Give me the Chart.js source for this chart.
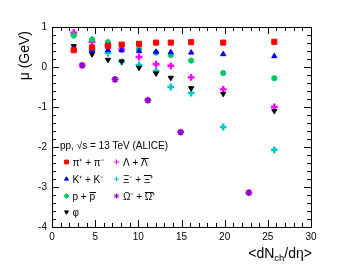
<!DOCTYPE html>
<html><head><meta charset="utf-8">
<script src="https://cdn.jsdelivr.net/npm/chart.js@4.4.0/dist/chart.umd.min.js"></script>
<style>html,body{margin:0;padding:0;background:#fff}canvas{display:block}</style>
</head><body>
<canvas id="c" width="347" height="267"></canvas>
<script>
// ---- data ----
const xClasses = [2.52, 4.64, 6.48, 8.07, 10.08, 12.06, 13.76, 16.12, 19.83, 25.75];
const xOmega   = [3.5, 7.3, 11.1, 14.9, 22.8];
const pion   = [0.42, 0.49, 0.53, 0.56, 0.58, 0.61, 0.61, 0.62, 0.61, 0.63];
const kaon   = [0.46, 0.41, 0.42, 0.42, 0.40, 0.38, 0.37, 0.36, 0.32, 0.27];
const proton = [0.79, 0.69, 0.62, 0.54, 0.45, 0.36, 0.30, 0.16, -0.15, -0.28];
const phi    = [0.52, 0.32, 0.18, 0.14, -0.02, -0.16, -0.27, -0.53, -0.67, -1.10];
const lambda = [0.86, 0.63, 0.53, 0.44, 0.25, 0.07, 0.03, -0.26, -0.56, -1.00];
const xi     = [0.80, 0.42, 0.35, 0.13, 0.05, -0.10, -0.50, -0.65, -1.50, -2.07];
const omega  = [0.04, -0.31, -0.83, -1.63, -3.14];
const labels = ['π⁺ + π⁻', 'K⁺ + K⁻', 'p + p\u0304', 'φ', 'Λ + Λ\u0304', 'Ξ⁻ + Ξ\u0304⁺', 'Ω⁻ + Ω\u0304⁺'];
const xTickLabels = [0, 5, 10, 15, 20, 25, 30];
const yTickLabels = [-4, -3, -2, -1, 0, 1];

const FONT = '"Liberation Sans", Arial, Helvetica, sans-serif';
const pts = (xs, ys) => xs.map((x, i) => ({x: x, y: ys[i]}));

const styles = [
  {c:'#ff0000', s:'rect', r:3.6, rot:0, bw:1},
  {c:'#0000ff', s:'triangle', r:3.0, rot:0, bw:1},
  {c:'#00c864', s:'circle', r:2.6, rot:0, bw:1},
  {c:'#000000', s:'triangle', r:3.0, rot:180, bw:1},
  {c:'#ff00ff', s:'cross', r:3.4, rot:0, bw:2.4},
  {c:'#00c8c8', s:'cross', r:3.4, rot:0, bw:2.4},
  {c:'#9a00d0', s:'star', r:3.4, rot:0, bw:1.8},
];
const series = [
  pts(xClasses, pion), pts(xClasses, kaon), pts(xClasses, proton), pts(xClasses, phi),
  pts(xClasses, lambda), pts(xClasses, xi), pts(xOmega, omega)
];
const datasets = series.map((d, i) => ({
  label: labels[i], data: d,
  pointStyle: styles[i].s, pointRadius: styles[i].r, pointRotation: styles[i].rot,
  backgroundColor: styles[i].c, borderColor: styles[i].c,
  pointBackgroundColor: styles[i].c, pointBorderColor: styles[i].c,
  pointBorderWidth: styles[i].bw, pointHoverBorderWidth: styles[i].bw,
  pointHoverRadius: styles[i].r
}));

// draw text where a character followed by U+0304 gets a drawn overline
function drawBarText(ctx, str, x, y) {
  const chars = Array.from(str);
  for (let i = 0; i < chars.length; i++) {
    const ch = chars[i];
    if (ch === '\u0304') continue;
    const w = ctx.measureText(ch).width;
    ctx.fillText(ch, x, y);
    if (chars[i + 1] === '\u0304') {
      ctx.fillRect(x, y - 8, w + 1, 1);
    }
    x += w;
  }
}

const framePlugin = {
  id: 'frame',
  afterDraw(chart) {
    const ctx = chart.ctx, a = chart.chartArea;
    const xs = chart.scales.x, ys = chart.scales.y;
    ctx.save();
    ctx.strokeStyle = '#000'; ctx.lineWidth = 1;
    ctx.strokeRect(Math.round(a.left) + 0.5, Math.round(a.top) + 0.5,
                   Math.round(a.right - a.left), Math.round(a.bottom - a.top));
    ctx.beginPath();
    for (let v = 0; v <= 30; v += 1) {
      const px = Math.round(xs.getPixelForValue(v)) + 0.5;
      const len = (v % 5 === 0) ? 7 : 4;
      ctx.moveTo(px, a.bottom); ctx.lineTo(px, a.bottom - len);
      ctx.moveTo(px, a.top); ctx.lineTo(px, a.top + len);
    }
    for (let k = -20; k <= 5; k++) {
      const v = k / 5;
      const py = Math.round(ys.getPixelForValue(v)) + 0.5;
      const len = (k % 5 === 0) ? 7 : 4;
      ctx.moveTo(a.left, py); ctx.lineTo(a.left + len, py);
      ctx.moveTo(a.right, py); ctx.lineTo(a.right - len, py);
    }
    ctx.stroke();

    // axis titles
    ctx.fillStyle = '#000';
    ctx.font = '14px ' + FONT;
    ctx.save();
    ctx.translate(25, a.top + 4);
    ctx.rotate(-Math.PI / 2);
    ctx.textAlign = 'right'; ctx.textBaseline = 'middle';
    ctx.fillText('μ (GeV)', 0, 0);
    ctx.restore();

    // x title: <dN_ch/dη>, right aligned at axis end
    const parts = [['<dN', 14, 0], ['ch', 9.5, 3], ['/dη>', 14, 0]];
    let w = 0;
    parts.forEach(p => { ctx.font = p[1] + 'px ' + FONT; w += ctx.measureText(p[0]).width; });
    let x = a.right + 1 - w; const base = 258;
    ctx.textAlign = 'left'; ctx.textBaseline = 'alphabetic';
    parts.forEach(p => { ctx.font = p[1] + 'px ' + FONT; ctx.fillText(p[0], x, base + p[2]); x += ctx.measureText(p[0]).width; });

    // legend
    ctx.font = '10px ' + FONT;
    ctx.textBaseline = 'alphabetic';
    ctx.fillText('pp, √s = 13 TeV (ALICE)', 60, 149);
    const cols = [[66.5, 72.5, [0, 1, 2, 3]], [116.5, 123, [4, 5, 6]]];
    const rows = [162, 179, 196, 212];
    cols.forEach(col => {
      col[2].forEach((idx, r) => {
        const st = styles[idx];
        ctx.fillStyle = st.c; ctx.strokeStyle = st.c;
        Chart.helpers.drawPoint(ctx, {pointStyle: st.s, radius: st.r * 0.75, rotation: st.rot, borderWidth: st.bw * 0.8}, col[0], rows[r]);
        ctx.fillStyle = '#000';
        drawBarText(ctx, labels[idx], col[1], rows[r] + 4);
      });
    });
    ctx.restore();
  }
};

new Chart(document.getElementById('c'), {
  type: 'scatter',
  data: { datasets: datasets },
  plugins: [framePlugin],
  options: {
    responsive: false, animation: false, devicePixelRatio: 1,
    layout: { padding: { top: 27, right: 36, left: 0, bottom: 0 } },
    plugins: { legend: { display: false }, tooltip: { enabled: false } },
    scales: {
      x: {
        type: 'linear', min: 0, max: 30,
        afterFit: s => { s.height = 40; },
        afterBuildTicks: s => { s.ticks = xTickLabels.map(v => ({value: v})); },
        ticks: { stepSize: 5, padding: 4, color: '#000', font: { family: FONT, size: 10 }, maxRotation: 0 },
        grid: { display: false, drawTicks: false }, border: { display: false }
      },
      y: {
        type: 'linear', min: -4, max: 1,
        afterFit: s => { s.width = 52; },
        afterBuildTicks: s => { s.ticks = yTickLabels.map(v => ({value: v})); },
        ticks: { stepSize: 1, padding: 5, color: '#000', font: { family: FONT, size: 10 } },
        grid: { display: false, drawTicks: false }, border: { display: false }
      }
    }
  }
});
</script>
</body></html>
